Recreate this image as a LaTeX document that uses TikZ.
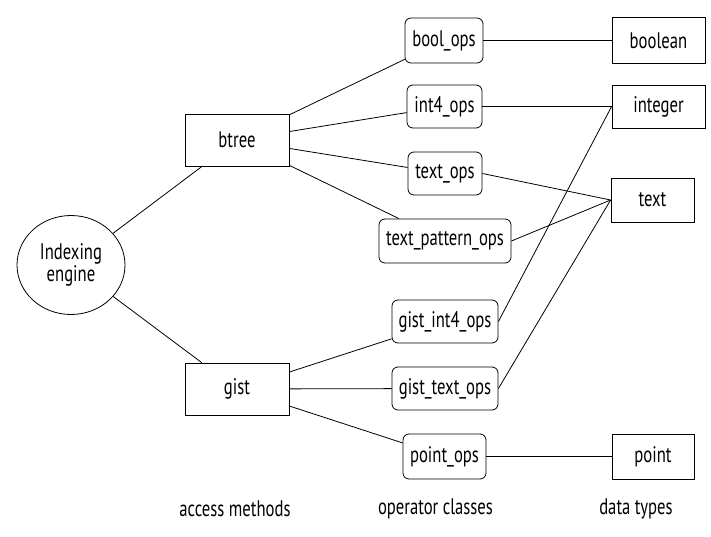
\documentclass[tikz,border=0pt]{standalone}
\usepackage{fontspec}
\setmainfont[FakeStretch=0.74]{PT Sans}
\usetikzlibrary{shapes.geometric}
\begin{document}
\begin{tikzpicture}[x=1pt,y=-1pt,
  every node/.style={font=\fontsize{22.5}{24}\selectfont, inner sep=0pt},
  sq/.style={draw, line width=0.8pt, rectangle},
  rnd/.style={draw, line width=0.8pt, rectangle, rounded corners=6pt},
  ln/.style={line width=0.8pt}]
\useasboundingbox (0,0) rectangle (711,537);
\node[draw, line width=0.8pt, ellipse, minimum width=108, minimum height=99, align=center] (eng) at (71,265) {Indexing\\[-2pt]engine};
\node[sq, minimum width=104, minimum height=52] (btree) at (237,140) {btree};
\node[sq, minimum width=104, minimum height=52] (gist) at (237,389) {gist};
\node[rnd, minimum width=78, minimum height=45] (bool) at (444,40.5) {bool\_ops};
\node[rnd, minimum width=75, minimum height=43] (int4) at (444.5,106.5) {int4\_ops};
\node[rnd, minimum width=74, minimum height=43] (textops) at (445,173.5) {text\_ops};
\node[rnd, minimum width=132, minimum height=44] (tpat) at (445,241) {text\_pattern\_ops};
\node[rnd, minimum width=106, minimum height=43] (gint) at (445,321.5) {gist\_int4\_ops};
\node[rnd, minimum width=106, minimum height=43] (gtext) at (445,388.5) {gist\_text\_ops};
\node[rnd, minimum width=83, minimum height=45] (pointops) at (444.5,456.5) {point\_ops};
\node[sq, minimum width=93, minimum height=46] (boolean) at (658.5,40.5) {boolean};
\node[sq, minimum width=93, minimum height=43] (integer) at (658.5,106.5) {integer};
\node[sq, minimum width=83, minimum height=44] (text) at (652.5,200) {text};
\node[sq, minimum width=82, minimum height=45] (point) at (653,456.5) {point};
\node (l1) at (235,509) {access methods};
\node (l2) at (435.5,509) {operator classes};
\node (l3) at (636,509) {data types};
\draw[ln] (eng) -- (btree);
\draw[ln] (eng) -- (gist);
\draw[ln] (btree) -- (bool);
\draw[ln] (btree) -- (int4);
\draw[ln] (btree) -- (textops);
\draw[ln] (btree) -- (tpat);
\draw[ln] (gist) -- (gint);
\draw[ln] (gist) -- (gtext);
\draw[ln] (gist) -- (pointops);
\draw[ln] (bool.east) -- (boolean.west);
\draw[ln] (int4.east) -- (integer.west);
\draw[ln] (textops.east) -- (text.west);
\draw[ln] (tpat.east) -- (text.west);
\draw[ln] (gint.east) -- (integer.west);
\draw[ln] (gtext.east) -- (text.west);
\draw[ln] (pointops.east) -- (point.west);
\end{tikzpicture}
\end{document}
